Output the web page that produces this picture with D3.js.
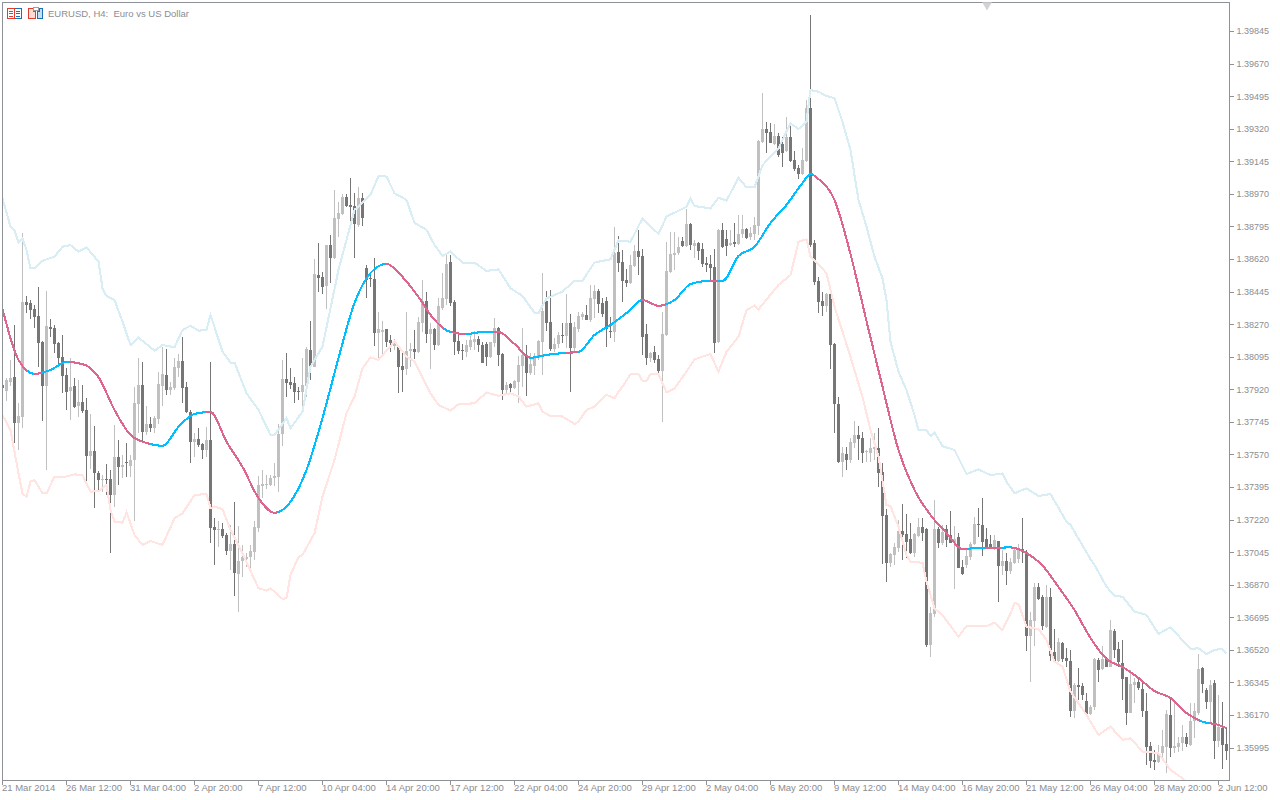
<!DOCTYPE html>
<html><head><meta charset="utf-8">
<script src="https://cdn.jsdelivr.net/npm/d3@7/dist/d3.min.js"></script>
<style>html,body{margin:0;padding:0;background:#fff;overflow:hidden}svg{display:block}
text{font-family:"Liberation Sans",sans-serif;font-size:9.5px;fill:#8b8d92}</style>
</head><body><svg id="c" width="1280" height="800"></svg>
<script>
const title="EURUSD, H4:  Euro vs US Dollar";
const priceTicks=[1.39845,1.39670,1.39495,1.39320,1.39145,1.38970,1.38795,1.38620,1.38445,1.38270,1.38095,1.37920,1.37745,1.37570,1.37395,1.37220,1.37045,1.36870,1.36695,1.36520,1.36345,1.36170,1.35995];
const timeTicks=[0,16,32,48,64,80,96,112,128,144,160,176,192,208,224,240,256,272,288,304];
const timeLabels=["21 Mar 2014","26 Mar 12:00","31 Mar 04:00","2 Apr 20:00","7 Apr 12:00","10 Apr 04:00","14 Apr 20:00","17 Apr 12:00","22 Apr 04:00","24 Apr 20:00","29 Apr 12:00","2 May 04:00","6 May 20:00","9 May 12:00","14 May 04:00","16 May 20:00","21 May 12:00","26 May 04:00","28 May 20:00","2 Jun 12:00"];
const opens=[
137943,137911,137961,137986,137741,137773,138391,138384,138352,138314,
138174,137940,138255,138250,138171,138092,137997,137911,137938,137830,
137852,137809,137564,137589,137469,137433,137438,137438,137354,137556,
137503,137530,137508,137540,137841,137943,137691,137734,137712,137761,
137938,137997,137916,137927,138035,138072,137932,137800,137639,137653,
137626,137594,137648,137179,137165,137170,137140,137052,137090,136928,
136995,137007,137021,137048,137174,137403,137408,137406,137441,137451,
137681,137976,137960,137953,137913,137904,137938,138132,138042,138535,
138524,138476,138696,138624,138836,138863,138954,138911,138906,138803,
138949,138574,138519,138513,138225,138229,138245,138186,138153,138150,
138048,138030,138126,138137,138123,138279,138397,138218,138246,138159,
138359,138404,138605,138390,138180,138132,138121,138150,138177,138189,
138159,138164,138094,138171,138248,138110,137917,137949,137926,137962,
138046,138105,138006,138046,138091,138177,138397,138282,138135,138162,
138212,138207,138279,138141,138243,138311,138318,138291,138404,138449,
138386,138395,138236,138230,138660,138606,138507,138489,138584,138663,
138636,138217,138090,138122,138081,138020,138212,138549,138642,138651,
138717,138690,138808,138690,138708,138674,138599,138593,138577,138174,
138776,138726,138695,138710,138701,138755,138781,138740,138753,138799,
139247,139319,139301,139238,139281,139238,139202,139277,139152,139111,
139075,139147,139430,138704,138502,138395,138367,138432,138163,137841,
137529,137572,137540,137630,137674,137658,137583,137576,137601,137606,
137477,137244,136988,137030,137069,137159,137142,137116,137039,137132,
137180,137169,136546,136713,137169,137092,137167,137137,137092,137128,
136963,136976,137021,137089,137196,137191,137116,137087,137065,137105,
136971,137000,136944,136986,137009,137063,137048,136592,136677,136857,
136806,136645,136806,136511,136463,136559,136477,136461,136194,136332,
136326,136246,136176,136212,136466,136418,136470,136430,136620,136525,
136448,136373,136183,136332,136350,136310,136192,136004,135929,135918,
135965,136000,136171,135993,136000,136018,136054,136009,136140,136180,
136425,136305,136242,136341,136033,136099,136015].map(v=>v/1e5);
const closes=[
137929,137970,137983,137741,137777,138391,138373,138346,138310,138171,
137940,138260,138246,138164,138090,137993,137907,137934,137827,137852,
137805,137564,137589,137469,137433,137438,137433,137354,137558,137504,
137513,137526,137540,137847,137943,137693,137734,137712,137766,137949,
138002,137916,137934,138040,138072,137929,137800,137639,137653,137621,
137594,137648,137177,137165,137170,137132,137052,137090,136932,137000,
137018,137021,137054,137179,137406,137414,137412,137446,137455,137679,
137976,137953,137944,137906,137906,137944,138139,138046,138540,138521,
138472,138696,138626,138843,138870,138954,138906,138902,138807,138949,
138843,138508,138515,138225,138245,138239,138177,138168,138171,138042,
138024,138126,138137,138123,138282,138397,138218,138245,138159,138368,
138409,138594,138386,138175,138126,138125,138159,138186,138191,138159,
138064,138096,138175,138248,138105,137917,137944,137926,137965,138051,
138105,138010,138057,138087,138180,138343,138275,138135,138164,138212,
138209,138275,138144,138257,138314,138327,138293,138411,138451,138379,
138325,138243,138230,138651,138597,138502,138489,138588,138663,138633,
138203,138090,138113,138078,138020,138217,138556,138647,138654,138687,
138690,138808,138695,138708,138661,138593,138588,138574,138171,138776,
138683,138692,138704,138703,138755,138781,138735,138758,138803,139254,
139319,139299,139245,139281,139179,139188,139277,139147,139102,139075,
139152,139430,138695,138498,138391,138368,138432,138158,137841,137529,
137579,137540,137639,137674,137653,137576,137587,137606,137612,137468,
137239,136988,137035,137074,137159,137137,137101,137039,137142,137182,
137150,136546,136716,137169,137096,137155,137110,137096,137114,136962,
136927,137024,137089,137196,137191,137101,137074,137065,137110,136971,
136997,136946,136991,137057,137063,137048,136592,136681,136860,136794,
136649,136806,136488,136457,136561,136472,136461,136194,136332,136319,
136278,136176,136215,136470,136412,136470,136430,136627,136520,136457,
136364,136183,136337,136346,136314,136189,136000,135923,135918,135965,
136004,136176,135995,136004,136018,136054,136015,136140,136194,136418,
136337,136242,136332,136033,136108,136009,135979].map(v=>v/1e5);
const highs=[
137950,137979,138078,138266,137845,138758,138421,138400,138373,138470,
138181,138448,138296,138266,138174,138212,138033,138087,137979,137970,
137943,137872,137787,137723,137483,137460,137519,137487,137728,137648,
137567,137630,137567,137934,138087,138065,137830,137770,137777,138015,
138149,138135,137961,138087,138110,138203,137959,137809,137684,137710,
137633,137716,138069,137231,137210,137204,137147,137192,137313,137186,
137084,137039,137084,137210,137455,137487,137460,137460,137523,137734,
138078,138118,138033,137989,137935,138087,138150,138288,138619,138705,
138553,138696,138750,138992,138929,138970,138970,139054,138977,139006,
138974,138589,138535,138624,138338,138289,138245,138212,138189,138159,
138132,138334,138168,138239,138307,138508,138442,138279,138248,138409,
138544,138642,138642,138400,138212,138162,138186,138207,138236,138207,
138177,138177,138177,138302,138257,138114,137962,137956,137971,138101,
138248,138159,138114,138114,138186,138544,138451,138454,138194,138230,
138279,138433,138325,138284,138338,138338,138374,138481,138481,138458,
138409,138418,138311,138794,138744,138669,138565,138642,138695,138776,
138672,138271,138122,138153,138104,138337,138710,138764,138764,138740,
138740,138887,138812,138722,138713,138704,138629,138642,138672,138780,
138812,138776,138776,138812,138857,138857,138785,138794,138848,139260,
139510,139355,139349,139346,139299,139277,139385,139349,139202,139125,
139215,139475,139931,138722,138525,138445,138436,138432,138170,137880,
137612,137608,137656,137751,137723,137692,137594,137656,137683,137710,
137522,137275,137039,137092,137218,137304,137250,137203,137146,137227,
137227,137173,136748,137325,137182,137191,137191,137266,137185,137150,
137003,137056,137101,137236,137280,137334,137173,137137,137137,137107,
137056,137039,137016,137066,137089,137227,137057,136726,136878,136878,
136815,136869,136851,136633,136583,136565,136529,136520,136341,136425,
136341,136287,136224,136475,136475,136541,136484,136681,136631,136565,
136574,136377,136412,136368,136377,136359,136287,136027,135983,136009,
136090,136198,136255,136233,136054,136117,136072,136233,136233,136498,
136430,136314,136359,136359,136278,136239,136099].map(v=>v/1e5);
const lows=[
137920,137859,137938,137630,137594,137714,138332,138300,138251,138042,
137752,137487,138203,138113,138042,137898,137809,137755,137818,137773,
137791,137419,137490,137281,137379,137370,137352,137042,137290,137406,
137442,137447,137447,137214,137684,137633,137675,137693,137687,137734,
137830,137889,137889,137916,137988,137848,137795,137526,137558,137608,
137544,137558,137097,136977,137075,137120,137030,136950,136807,136721,
136914,136968,136959,137004,137156,137335,137383,137398,137401,137371,
137616,137878,137922,137849,137863,137795,137881,137971,138039,138445,
138433,138350,138490,138619,138741,138857,138898,138809,138626,138794,
138798,138413,138472,138153,138087,138096,138150,138123,138132,137899,
137908,137998,138042,138083,138114,138230,138168,138028,138132,138153,
138347,138374,138368,138105,138110,138078,138096,138132,138132,138123,
138060,138046,138087,138150,138046,137863,137895,137899,137920,137849,
137935,137885,137997,137997,138078,137997,138236,138128,138123,138141,
138171,138141,137908,138123,138230,138293,138291,138284,138302,138329,
138311,138146,138194,138177,138552,138391,138472,138484,138579,138534,
138104,138051,138069,138060,138002,137746,138207,138543,138561,138642,
138687,138683,138669,138624,138615,138579,138552,138507,138117,138171,
138678,138636,138692,138687,138695,138731,138726,138722,138722,138749,
139242,139192,139242,139233,139166,139113,139197,139143,139095,139052,
139072,139143,138687,138481,138328,138314,138337,138029,137683,137522,
137450,137486,137526,137603,137540,137526,137531,137531,137540,137397,
136981,136886,136967,136976,137048,137003,137012,137035,137021,137128,
137107,136537,136483,136698,137065,137083,137074,137092,136847,136958,
136922,136958,137003,137083,137125,137024,137071,137060,137056,136779,
136922,136869,136928,136982,136986,136989,136514,136350,136543,136788,
136627,136636,136463,136454,136457,136457,136430,136162,136153,136251,
136251,136171,136171,136198,136350,136412,136427,136427,136475,136430,
136251,136117,136180,136233,136305,136158,135902,135888,135875,135911,
135943,135857,135943,135968,135974,135977,136000,136004,136049,136171,
136287,136201,136135,135932,136000,135879,135929].map(v=>v/1e5);
const maBars=[0,4,8,12,16,20,24,28,32,36,40,44,48,52,56,60,64,68,72,76,80,84,88,92,96,100,104,108,112,116,120,124,128,132,136,140,144,148,152,156,160,164,168,172,176,180,184,188,192,196,200,202,204,208,212,216,220,224,228,232,236,240,244,248,252,256,260,264,268,272,276,280,284,288,292,296,300,304,306];
const maValues=[
138352,138078,138003,138024,138067,138056,137986,137809,137675,137632,137616,137718,137788,
137798,137639,137503,137336,137257,137316,137487,137766,138088,138384,138545,138594,138524,
138416,138293,138228,138217,138228,138228,138164,138090,138105,138115,138121,138212,138266,
138330,138400,138369,138400,138486,138502,138502,138637,138686,138814,138911,139029,139077,139050,
138937,138647,138287,137934,137594,137379,137245,137148,137062,137068,137068,137071,137041,
136973,136858,136734,136584,136471,136428,136369,136299,136262,136181,136134,136117,136100].map(v=>v/1e5);
const upperBars=[0,2,3,4,5,6,7,8,10,13,15,17,19,21,24,25,26,28,30,32,34,38,40,43,45,47,49,51,
52,55,57,58,61,64,67,68,71,72,75,77,80,84,88,92,94,96,98,101,
103,106,108,110,112,115,118,121,124,127,130,133,134,136,140,143,145,148,152,
154,157,160,164,166,171,172,173,177,179,181,184,186,188,190,194,197,199,201,202,204,206,208,210,212,
214,216,218,220,221,222,224,226,228,229,231,232,233,235,238,241,244,247,250,251,
253,256,259,262,266,267,272,273,276,278,280,283,286,289,292,297,299,301,303,305,306];
const upperBand=[138946,138794,138772,138708,138731,138669,138570,138570,138611,138633,138686,138695,138660,138683,138606,138463,138421,138400,138284,138158,138198,138128,138158,138146,138239,138262,138235,138239,
138320,138123,138064,138064,137899,137810,137675,137675,137765,137711,137800,138042,138150,138562,138884,138965,139067,139063,138974,138938,
138815,138777,138696,138637,138660,138601,138601,138556,138565,138463,138422,138332,138329,138409,138445,138504,138504,138601,138619,
138720,138713,138839,138755,138848,138901,138946,138905,138892,138950,138934,139057,139005,139005,139125,139215,139349,139319,139358,139528,139519,139496,139485,139357,139206,
138937,138794,138633,138516,138400,138176,138015,137916,137782,137701,137701,137669,137687,137615,137594,137465,137490,137459,137468,137424,
137362,137388,137347,137358,137209,137192,137007,136977,136860,136810,136806,136726,136708,136606,136642,136525,136529,136498,136520,136525,136502].map(v=>v/1e5);
const lowerBars=[0,2,3,4,5,6,7,8,10,11,13,15,18,20,22,24,26,27,28,30,31,32,33,35,37,40,43,45,48,51,
52,53,55,57,60,64,66,67,70,71,72,74,75,78,80,83,86,88,90,92,94,98,101,
103,107,109,112,114,118,121,124,127,129,131,134,135,137,140,143,144,146,148,151,153,154,
155,157,159,160,161,162,164,166,168,171,173,177,179,181,184,186,188,189,194,197,199,201,202,206,
208,212,215,217,219,221,222,224,226,227,230,231,233,235,239,241,246,248,250,252,
253,254,256,259,261,263,265,267,271,274,277,280,282,285,289,292,295,297];
const lowerBand=[137782,137701,137585,137469,137361,137343,137424,137433,137361,137361,137451,137447,137463,137460,137370,137374,137406,137272,137209,137204,137259,137200,137137,137084,137105,137084,137227,137254,137352,137358,
137281,137290,137276,137165,137039,136851,136839,136851,136794,136798,136923,137018,137030,137147,137344,137541,137792,137881,138033,138092,138078,138177,138096,
138070,137899,137836,137806,137840,137845,137903,137885,137899,137881,137827,137845,137800,137777,137774,137734,137747,137809,137827,137890,137872,137908,
137934,138001,138002,137965,137965,138002,138002,137904,137925,138015,138081,138110,138015,138122,138203,138346,138370,138350,138481,138534,138713,138726,138633,138545,
138364,138095,137880,137701,137558,137298,137293,137182,137030,136994,136988,136886,136743,136707,136591,136648,136648,136666,136627,136716,
136771,136767,136645,136631,136574,136457,136430,136296,136171,136063,136108,136036,136045,135974,135965,135875,135830,135780].map(v=>v/1e5);
const maRisingSpans=[[6.4,8],[10,17],[37,51],[69,96],[110,112],[116,123],[132,141],[144,160],[166,177],[179,202.5],[241,246],[250,252],[299,302]];

const C={frame:"#8f9198",bull:"#c0c0c0",bear:"#767676",up:"#00bfff",down:"#dc6690",upper:"#d9edf5",lower:"#ffe4e1",mark:"#d2d2d2"};
const svg=d3.select("#c");
const x=d3.scaleLinear().domain([0,306]).range([2.5,1226.5]);
const y=d3.scaleLinear().domain([1.39845,1.35995]).range([31.1,747.6]);
const defs=svg.append("defs");
defs.append("clipPath").attr("id","plot").append("rect").attr("x",3).attr("y",3).attr("width",1226).attr("height",777);
const stops=[];let last=0;
maRisingSpans.forEach(([a,b])=>{stops.push([last,C.down],[a,C.down],[a,C.up],[b,C.up]);last=b;});
stops.push([last,C.down],[306,C.down]);
defs.append("linearGradient").attr("id","maStroke").attr("gradientUnits","userSpaceOnUse")
 .attr("x1",x(0)).attr("x2",x(306)).attr("y1",0).attr("y2",0)
 .selectAll("stop").data(stops).join("stop").attr("offset",d=>d[0]/306).attr("stop-color",d=>d[1]);

svg.append("rect").attr("width",1280).attr("height",800).attr("fill","#fff");
const plot=svg.append("g").attr("clip-path","url(#plot)");
const idx=d3.range(opens.length);
const col=i=>closes[i]>=opens[i]?C.bull:C.bear;
const cg=plot.append("g").attr("shape-rendering","crispEdges");
cg.selectAll(".w").data(idx).join("rect").attr("class","w").attr("x",i=>x(i)-.5).attr("width",1)
 .attr("y",i=>y(highs[i])).attr("height",i=>y(lows[i])-y(highs[i])).attr("fill",col);
cg.selectAll(".b").data(idx).join("rect").attr("class","b").attr("x",i=>x(i)-1.5).attr("width",3)
 .attr("y",i=>y(Math.max(opens[i],closes[i]))).attr("height",i=>Math.max(1,Math.abs(y(opens[i])-y(closes[i])))).attr("fill",col);
const lineOf=curve=>d3.line().x(d=>x(d[0])).y(d=>y(d[1])).curve(curve);
const series=(bars,vals)=>vals.map((v,i)=>[bars[i],v]);
[[upperBars,upperBand,C.upper,d3.curveLinear],[lowerBars,lowerBand,C.lower,d3.curveLinear],[maBars,maValues,"url(#maStroke)",d3.curveMonotoneX]].forEach(([bars,vals,stroke,curve])=>{
 plot.append("path").attr("d",lineOf(curve)(series(bars,vals))).attr("fill","none").attr("stroke",stroke)
  .attr("stroke-width",2.1).attr("shape-rendering","crispEdges");
});
// frame
svg.append("rect").attr("x",2.5).attr("y",2.5).attr("width",1227).attr("height",778).attr("fill","none")
 .attr("stroke",C.frame).attr("shape-rendering","crispEdges");
// shift marker
svg.append("path").attr("d",d3.symbol(d3.symbolTriangle,40)()).attr("transform","translate(987,5) rotate(180)").attr("fill",C.mark);
// axes
const yAxis=d3.axisRight(y).tickValues(priceTicks).tickFormat(d3.format(".5f")).tickSize(4).tickPadding(3).offset(.4);
const gy=svg.append("g").attr("transform","translate(1229.5,0)").call(yAxis);
gy.select(".domain").remove();
gy.selectAll("line").attr("stroke",C.frame).attr("shape-rendering","crispEdges");
gy.selectAll("text").attr("fill",C.frame).attr("dy","0.33em").style("font","9px 'Liberation Sans',sans-serif");
const xAxis=d3.axisBottom(x).tickValues(timeTicks).tickFormat((d,i)=>timeLabels[i]).tickSize(4).tickPadding(0).offset(0);
const gx=svg.append("g").attr("transform","translate(0,780.5)").call(xAxis);
gx.select(".domain").remove();
gx.selectAll("line").attr("stroke",C.frame).attr("shape-rendering","crispEdges");
gx.selectAll("text").attr("text-anchor","start").attr("x",-.5).attr("y",4).attr("fill",C.frame).style("font","9.5px 'Liberation Sans',sans-serif");
// title and toolbar icons
svg.append("text").attr("x",48).attr("y",17).attr("xml:space","preserve").style("white-space","pre").text(title);
const ic=svg.append("g").attr("shape-rendering","crispEdges").attr("fill","none");
ic.append("rect").attr("x",7.5).attr("y",8.5).attr("width",14).attr("height",10).attr("stroke","#1f6fb5").attr("fill","#fff");
ic.append("path").attr("d","M7.5 8.5H14.5V18.5H7.5ZM9 11H13M9 13.5H13M9 16H13").attr("stroke","#e23b30");
ic.append("path").attr("d","M16 11H20M16 13.5H20M16 16H20").attr("stroke","#1f6fb5");
ic.append("path").attr("d","M28.5 8.5H33.5V11.5H35.5V18.5H28.5Z").attr("stroke","#e23b30").attr("fill","#fddcd6");
ic.append("path").attr("d","M37.5 18.5V11.5H39.5V8.5H42.5V18.5Z").attr("stroke","#1f6fb5").attr("fill","#bfe0f5");
ic.append("rect").attr("x",33.5).attr("y",7.5).attr("width",5).attr("height",3).attr("stroke","#9aa0a6").attr("fill","#fff");
</script></body></html>
